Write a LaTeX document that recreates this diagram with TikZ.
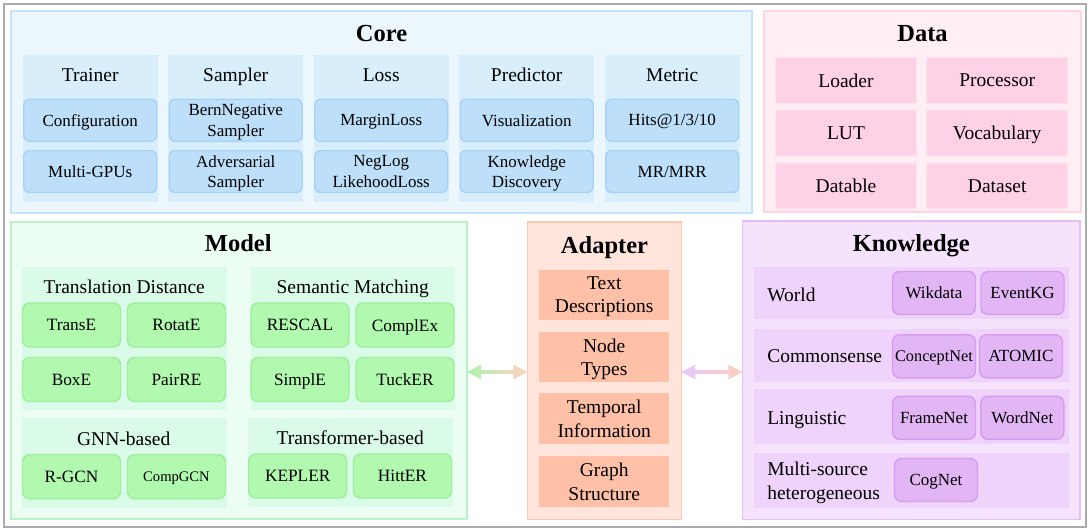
\documentclass[tikz,border=0pt]{standalone}
\usepackage{fontspec}
\setmainfont{Liberation Serif}
\usetikzlibrary{calc}
\definecolor{frameC}{HTML}{ABABAB}
\definecolor{coreBg}{HTML}{EBF6FD}
\definecolor{coreBd}{HTML}{C5E3F9}
\definecolor{coreCol}{HTML}{D9EEFB}
\definecolor{coreItem}{HTML}{BDDFF9}
\definecolor{coreItemBd}{HTML}{A6D2F6}
\definecolor{dataBg}{HTML}{FFEEF3}
\definecolor{dataBd}{HTML}{FFD3E4}
\definecolor{dataItem}{HTML}{FFD1E6}
\definecolor{dataItemBd}{HTML}{FFE3EE}
\definecolor{modelBg}{HTML}{ECFDF4}
\definecolor{modelBd}{HTML}{B8F2C6}
\definecolor{modelSub}{HTML}{DAFBE7}
\definecolor{modelItem}{HTML}{B2F9B0}
\definecolor{modelItemBd}{HTML}{9EEE9D}
\definecolor{adBg}{HTML}{FFE5DC}
\definecolor{adBd}{HTML}{FFC9B2}
\definecolor{adItem}{HTML}{FFC0A8}
\definecolor{kBg}{HTML}{F5E3FD}
\definecolor{kBd}{HTML}{E4BDF6}
\definecolor{kRow}{HTML}{EFD3FB}
\definecolor{kItem}{HTML}{E2B6F5}
\definecolor{kItemBd}{HTML}{D69CF0}
\definecolor{arG}{HTML}{AEF3AE}
\definecolor{arS}{HTML}{FFD0BF}
\definecolor{arP}{HTML}{E5C8FA}
\newcommand\fsz[2]{\fontsize{#1}{#2}\selectfont}
\begin{document}
\begin{tikzpicture}[x=1pt,y=-1pt,
  every node/.style={inner sep=0pt, outer sep=0pt},
  panel/.style={draw=#1, line width=1.6pt, rectangle},
  titletext/.style={font=\fsz{24.5}{28}\bfseries, anchor=base},
  headtext/.style={font=\fsz{19.5}{23.3}, anchor=base},
  citem/.style={draw=coreItemBd, fill=coreItem, line width=1.4pt, rounded corners=6pt,
    minimum width=133pt, minimum height=42pt, align=center, font=\fsz{17}{20.7}, text depth=0pt},
  ditem/.style={draw=dataItemBd, fill=dataItem, line width=1.2pt,
    minimum width=141pt, minimum height=46pt, align=center, font=\fsz{19.5}{23.3}, text depth=0pt},
  mitem/.style={draw=modelItemBd, fill=modelItem, line width=1.4pt, rounded corners=7pt,
    minimum width=98pt, minimum height=44pt, align=center, font=\fsz{17.3}{20.7}, text depth=0pt},
  aitem/.style={fill=adItem, minimum width=130pt, minimum height=50pt, align=center,
    font=\fsz{19.5}{23.3}, text depth=0pt},
  kitem/.style={draw=kItemBd, fill=kItem, line width=1.4pt, rounded corners=7pt,
    minimum width=83pt, minimum height=43pt, align=center, font=\fsz{17}{20.7}, text depth=0pt},
  klabel/.style={font=\fsz{19.5}{24}, anchor=base west, align=left},
]
\useasboundingbox (0,0) rectangle (1091,531);
\fill[white] (0,0) rectangle (1091,531);
\node[draw=frameC, line width=2.5pt, minimum width=1082pt, minimum height=523pt] (frame) at (545,265.5) {};

% ---------------- Core ----------------
\node[panel=coreBd, fill=coreBg, minimum width=741pt, minimum height=202pt] (core) at (381.5,112) {};
\node[titletext] (coreT) at (381.5,41) {Core};
\foreach \cx/\nm/\hd in {90.2/tr/Trainer, 235.7/sa/Sampler, 381.2/lo/Loss, 526.7/pr/Predictor, 672.2/me/Metric}{
  \node[fill=coreCol, minimum width=135pt, minimum height=147pt] (col\nm) at (\cx,128.5) {};
  \node[headtext] (hd\nm) at (\cx,81) {\hd};
}
\node[citem] (tr1) at (90.2,120.3) {Configuration};
\node[citem] (tr2) at (90.2,171.5) {Multi-GPUs};
\node[citem] (sa1) at (235.7,120.3) {BernNegative\\Sampler};
\node[citem] (sa2) at (235.7,171.5) {Adversarial\\Sampler};
\node[citem] (lo1) at (381.2,120.3) {MarginLoss};
\node[citem] (lo2) at (381.2,171.5) {NegLog\\LikehoodLoss};
\node[citem] (pr1) at (526.7,120.3) {Visualization};
\node[citem] (pr2) at (526.7,171.5) {Knowledge\\Discovery};
\node[citem] (me1) at (672.2,120.3) {Hits@1/3/10};
\node[citem] (me2) at (672.2,171.5) {MR/MRR};

% ---------------- Data ----------------
\node[panel=dataBd, fill=dataBg, minimum width=317pt, minimum height=201pt] (data) at (922.5,111.5) {};
\node[titletext] (dataT) at (922.5,41) {Data};
\node[ditem] (d11) at (846,80.5) {Loader};
\node[ditem] (d12) at (997.2,80.5) {Processor};
\node[ditem] (d21) at (846,133) {LUT};
\node[ditem] (d22) at (997.2,133) {Vocabulary};
\node[ditem] (d31) at (846,186) {Datable};
\node[ditem] (d32) at (997.2,186) {Dataset};

% ---------------- Model ----------------
\node[panel=modelBd, fill=modelBg, minimum width=456pt, minimum height=297pt] (model) at (239,370.5) {};
\node[titletext] (modelT) at (238.3,251.5) {Model};
\node[fill=modelSub, minimum width=204.5pt, minimum height=143.3pt] (td) at (124.3,338.3) {};
\node[fill=modelSub, minimum width=204.5pt, minimum height=143.3pt] (sm) at (352.8,338.3) {};
\node[fill=modelSub, minimum width=204.5pt, minimum height=90pt] (gnn) at (124.3,463.3) {};
\node[fill=modelSub, minimum width=204.5pt, minimum height=89pt] (tb) at (350.5,462.8) {};
\node[headtext] (tdT) at (124.2,293.3) {Translation Distance};
\node[headtext] (smT) at (352.7,293.3) {Semantic Matching};
\node[headtext] (gnnT) at (123.7,445) {GNN-based};
\node[headtext] (tbT) at (350.2,444.3) {Transformer-based};
\node[mitem] (transe) at (71.5,325) {TransE};
\node[mitem] (rotate) at (176.5,325) {RotatE};
\node[mitem] (boxe) at (71.5,379.5) {BoxE};
\node[mitem] (pairre) at (176.5,379.5) {PairRE};
\node[mitem] (rescal) at (300,325) {RESCAL};
\node[mitem] (complex) at (405,325) {ComplEx};
\node[mitem] (simple) at (300,379.5) {SimplE};
\node[mitem] (tucker) at (405,379.5) {TuckER};
\node[mitem] (rgcn) at (71.5,476.7) {R-GCN};
\node[mitem, font=\fsz{14.6}{17}] (compgcn) at (176.5,476.7) {CompGCN};
\node[mitem] (kepler) at (297.7,476) {KEPLER};
\node[mitem] (hitter) at (402.5,476) {HittER};

% ---------------- Adapter ----------------
\node[panel=adBd, fill=adBg, minimum width=154pt, minimum height=297.6pt] (adapter) at (604.3,370.5) {};
\node[titletext] (adT) at (604.5,253.3) {Adapter};
\node[aitem] (ad1) at (604.2,294.7) {Text\\Descriptions};
\node[aitem] (ad2) at (604.2,357) {Node\\Types};
\node[aitem, minimum height=51pt] (ad3) at (604.2,418.8) {Temporal\\Information};
\node[aitem, minimum height=51pt] (ad4) at (604.2,481.8) {Graph\\Structure};

% ---------------- Knowledge ----------------
\node[panel=kBd, fill=kBg, minimum width=337.7pt, minimum height=298.6pt] (know) at (911.2,370) {};
\node[titletext] (kT) at (911.3,251) {Knowledge};
\node[fill=kRow, minimum width=315pt, minimum height=52.6pt] (kr1) at (911.8,293) {};
\node[fill=kRow, minimum width=315pt, minimum height=52.4pt] (kr2) at (911.8,355.5) {};
\node[fill=kRow, minimum width=315pt, minimum height=55pt] (kr3) at (911.8,416.8) {};
\node[fill=kRow, minimum width=315pt, minimum height=55.6pt] (kr4) at (911.8,480.5) {};
\node[klabel] (kl1) at (767.3,301) {World};
\node[klabel] (kl2) at (767.3,362.3) {Commonsense};
\node[klabel] (kl3) at (767.3,424.3) {Linguistic};
\node[klabel] (kl4a) at (767.3,475) {Multi-source};
\node[klabel] (kl4b) at (767.3,499) {heterogeneous};
\node[kitem] (wik) at (934,293) {Wikdata};
\node[kitem] (ekg) at (1022.5,293) {EventKG};
\node[kitem, font=\fsz{16.3}{19}] (cnet) at (934,356.3) {ConceptNet};
\node[kitem] (atomic) at (1021,356.3) {ATOMIC};
\node[kitem] (fnet) at (934,417.8) {FrameNet};
\node[kitem] (wnet) at (1022.3,417.8) {WordNet};
\node[kitem] (cog) at (936,480) {CogNet};

% ---------------- Arrows ----------------
\coordinate (a1) at ($(model.east)+(0,1.5)$);
\coordinate (a2) at ($(adapter.west)+(0,1.5)$);
\coordinate (b1) at ($(adapter.east)+(0,1.5)$);
\coordinate (b2) at ($(know.west)+(0,2)$);
\shade[left color=arG, right color=arS]
  (a1) -- ++(14,-7.5) -- ++(0,5.5) -- ($(a2)+(-14,-2)$) -- ++(0,-5.5) -- (a2)
  -- ++(-14,7.5) -- ++(0,-5.5) -- ($(a1)+(14,2)$) -- ++(0,5.5) -- cycle;
\shade[left color=arP, right color=arS]
  (b1) -- ++(14,-7.5) -- ++(0,5.5) -- ($(b2)+(-14,-2)$) -- ++(0,-5.5) -- (b2)
  -- ++(-14,7.5) -- ++(0,-5.5) -- ($(b1)+(14,2)$) -- ++(0,5.5) -- cycle;
\end{tikzpicture}
\end{document}
